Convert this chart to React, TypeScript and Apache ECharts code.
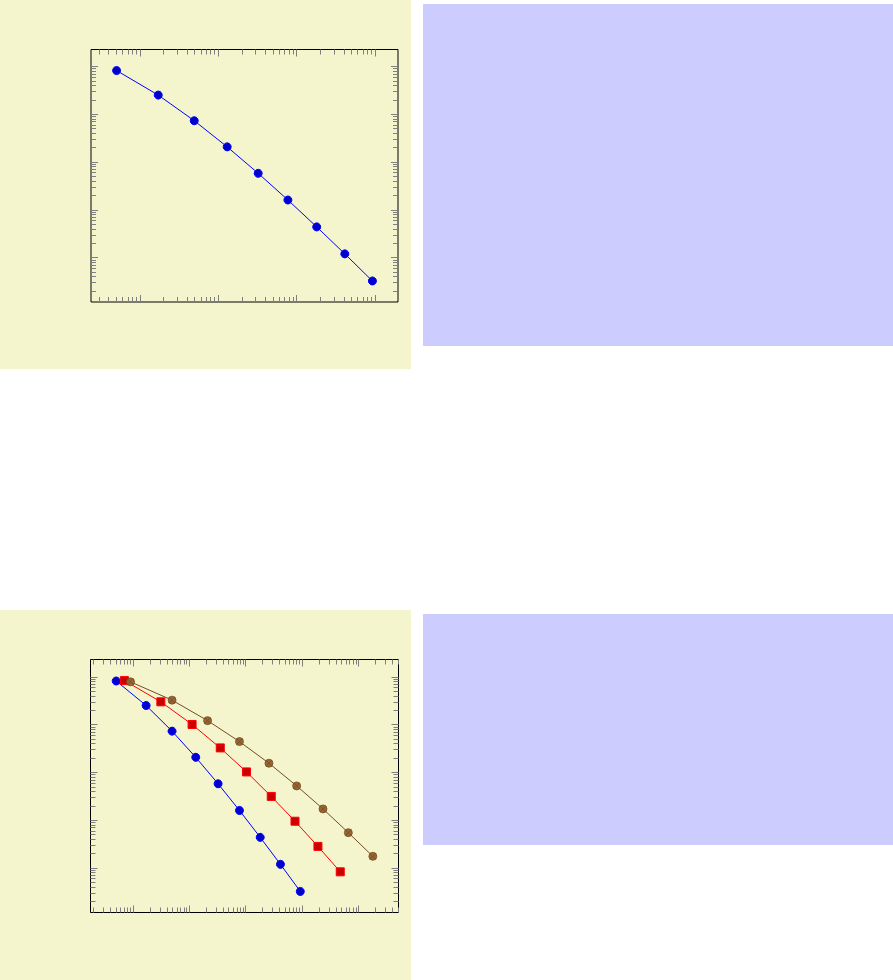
import React, { useEffect, useRef } from "react";
import * as echarts from "echarts";

// ---- data ----
const topX = [5, 17, 49, 129, 321, 769, 1793, 4097, 9217];
const topY = [8.3116e-2, 2.54686e-2, 7.40715e-3, 2.10192e-3, 5.87353e-4, 1.6227e-4, 4.44249e-5, 1.21049e-5, 3.283e-6];

const blueX = [5, 17, 49, 129, 321, 769, 1793, 4097, 9217];
const blueY = [8.3116e-2, 2.54686e-2, 7.40715e-3, 2.10192e-3, 5.87353e-4, 1.6227e-4, 4.44249e-5, 1.21049e-5, 3.283e-6];
const redX = [7, 31, 111, 351, 1023, 2815, 7423, 18943, 47103];
const redY = [8.47178e-2, 3.04409e-2, 1.02215e-2, 3.30346e-3, 1.03887e-3, 3.19646e-4, 9.65790e-5, 2.87339e-5, 8.4375e-6];
const brownX = [9, 49, 209, 769, 2561, 7937, 23297, 65537, 178177];
const brownY = [7.97e-2, 3.30e-2, 1.23e-2, 4.48e-3, 1.58e-3, 5.30e-4, 1.75e-4, 5.57e-5, 1.78e-5];

// tick decades (log10 exponents)
const topXMajorExp = [1, 2, 3, 4];
const bottomXMajorExp = [1, 2, 3, 4, 5];
const yMajorExp = [-5, -4, -3, -2, -1];
const topXMinorExp = [0, 1, 2, 3, 4];
const bottomXMinorExp = [0, 1, 2, 3, 4, 5];
const yMinorExp = [-6, -5, -4, -3, -2];
const minorMultipliers = [2, 3, 4, 5, 6, 7, 8, 9];

const zip = (xs: number[], ys: number[]) => xs.map((x, i) => [x, ys[i]]);

function logLimits(vals: number[]) {
  const l = vals.map((v) => Math.log10(v));
  const lo = Math.min(...l);
  const hi = Math.max(...l);
  const r = hi - lo;
  return [Math.pow(10, lo - 0.1 * r), Math.pow(10, hi + 0.1 * r)];
}

function tickValues(majorExp: number[], minorExp: number[], lim: number[]) {
  const out: number[][] = [];
  majorExp.forEach((e) => out.push([Math.pow(10, e), 1]));
  minorExp.forEach((e) =>
    minorMultipliers.forEach((m) => out.push([m * Math.pow(10, e), 0]))
  );
  return out.filter((t) => t[0] > lim[0] * 1.0001 && t[0] < lim[1] * 0.9999);
}

const TICK = "#7f7f7f";

function xTickSeries(gi: number, ticks: number[][], yRef: number) {
  return {
    type: "custom",
    xAxisIndex: gi,
    yAxisIndex: gi,
    silent: true,
    z: 1,
    clip: false,
    data: ticks.map((t) => [t[0], yRef, t[1]]),
    renderItem: (params: any, api: any) => {
      const cs = params.coordSys;
      const px = Math.round(api.coord([api.value(0), api.value(1)])[0] - 0.5) + 0.5;
      const len = api.value(2) ? 7 : 5;
      const b = cs.y + cs.height;
      return {
        type: "group",
        children: [
          { type: "line", shape: { x1: px, y1: b, x2: px, y2: b - len }, style: { stroke: TICK, lineWidth: 1 } },
          { type: "line", shape: { x1: px, y1: cs.y, x2: px, y2: cs.y + len }, style: { stroke: TICK, lineWidth: 1 } },
        ],
      };
    },
  };
}

function yTickSeries(gi: number, ticks: number[][], xRef: number) {
  return {
    type: "custom",
    xAxisIndex: gi,
    yAxisIndex: gi,
    silent: true,
    z: 1,
    clip: false,
    data: ticks.map((t) => [xRef, t[0], t[1]]),
    renderItem: (params: any, api: any) => {
      const cs = params.coordSys;
      const py = Math.round(api.coord([api.value(0), api.value(1)])[1] - 0.5) + 0.5;
      const len = api.value(2) ? 7 : 5;
      const r = cs.x + cs.width;
      return {
        type: "group",
        children: [
          { type: "line", shape: { x1: cs.x, y1: py, x2: cs.x + len, y2: py }, style: { stroke: TICK, lineWidth: 1 } },
          { type: "line", shape: { x1: r, y1: py, x2: r - len, y2: py }, style: { stroke: TICK, lineWidth: 1 } },
        ],
      };
    },
  };
}

const otimes =
  "path://M0,10A10,10,0,1,1,20,10A10,10,0,1,1,0,10ZM2.93,2.93L17.07,17.07M17.07,2.93L2.93,17.07";

export default function App() {
  const ref = useRef<HTMLDivElement>(null);
  useEffect(() => {
    if (!ref.current) return;
    const chart = echarts.init(ref.current, undefined, { renderer: "svg" });

    const topXLim = logLimits(topX);
    const topYLim = logLimits(topY);
    const botXLim = logLimits([...blueX, ...redX, ...brownX]);
    const botYLim = logLimits([...blueY, ...redY, ...brownY]);

    const hiddenAxis = (gi: number, lim: number[]) => ({
      type: "log",
      logBase: 10,
      gridIndex: gi,
      min: lim[0],
      max: lim[1],
      axisLine: { show: false },
      axisTick: { show: false },
      axisLabel: { show: false },
      splitLine: { show: false },
      minorTick: { show: false },
    });

    const gridBox = {
      show: true,
      borderColor: "#000",
      borderWidth: 1,
      backgroundColor: "transparent",
      containLabel: false,
    };

    const lineCommon = {
      type: "line",
      symbolSize: 8,
      showSymbol: true,
      silent: true,
      z: 3,
    };

    chart.setOption({
      animation: false,
      graphic: [
        { type: "rect", z: -10, shape: { x: 0, y: 0, width: 411, height: 369 }, style: { fill: "#f4f5cd" } },
        { type: "rect", z: -10, shape: { x: 423, y: 4, width: 470, height: 342 }, style: { fill: "#ccccff" } },
        { type: "rect", z: -10, shape: { x: 0, y: 610, width: 411, height: 370 }, style: { fill: "#f4f5cd" } },
        { type: "rect", z: -10, shape: { x: 423, y: 614, width: 470, height: 231 }, style: { fill: "#ccccff" } },
      ],
      grid: [
        { ...gridBox, left: 91, top: 49.5, width: 307, height: 252.5 },
        { ...gridBox, left: 90.5, top: 659.5, width: 308, height: 253 },
      ],
      xAxis: [hiddenAxis(0, topXLim), hiddenAxis(1, botXLim)],
      yAxis: [hiddenAxis(0, topYLim), hiddenAxis(1, botYLim)],
      series: [
        xTickSeries(0, tickValues(topXMajorExp, topXMinorExp, topXLim), topYLim[0] * 1.5),
        yTickSeries(0, tickValues([-5, -4, -3, -2, -1], yMinorExp, topYLim), topXLim[0] * 1.5),
        xTickSeries(1, tickValues(bottomXMajorExp, bottomXMinorExp, botXLim), botYLim[0] * 1.5),
        yTickSeries(1, tickValues(yMajorExp, yMinorExp, botYLim), botXLim[0] * 1.5),
        {
          ...lineCommon,
          xAxisIndex: 0,
          yAxisIndex: 0,
          symbol: "circle",
          data: zip(topX, topY),
          lineStyle: { color: "#0000ff", width: 1 },
          itemStyle: { color: "#0000cc", borderColor: "#0000ff", borderWidth: 1 },
        },
        {
          ...lineCommon,
          xAxisIndex: 1,
          yAxisIndex: 1,
          symbol: "circle",
          data: zip(blueX, blueY),
          lineStyle: { color: "#0000ff", width: 1 },
          itemStyle: { color: "#0000cc", borderColor: "#0000ff", borderWidth: 1 },
        },
        {
          ...lineCommon,
          xAxisIndex: 1,
          yAxisIndex: 1,
          symbol: "rect",
          data: zip(redX, redY),
          lineStyle: { color: "#ff0000", width: 1 },
          itemStyle: { color: "#cc0000", borderColor: "#ff0000", borderWidth: 1 },
        },
        {
          ...lineCommon,
          xAxisIndex: 1,
          yAxisIndex: 1,
          symbol: otimes,
          data: zip(brownX, brownY),
          lineStyle: { color: "#734d26", width: 1 },
          itemStyle: { color: "#996633", borderColor: "#734d26", borderWidth: 0.8 },
        },
      ],
    });
    return () => chart.dispose();
  }, []);
  return (
    <div
      ref={ref}
      style={{ position: "absolute", left: 0, top: 0, width: 893, height: 980 }}
    />
  );
}
